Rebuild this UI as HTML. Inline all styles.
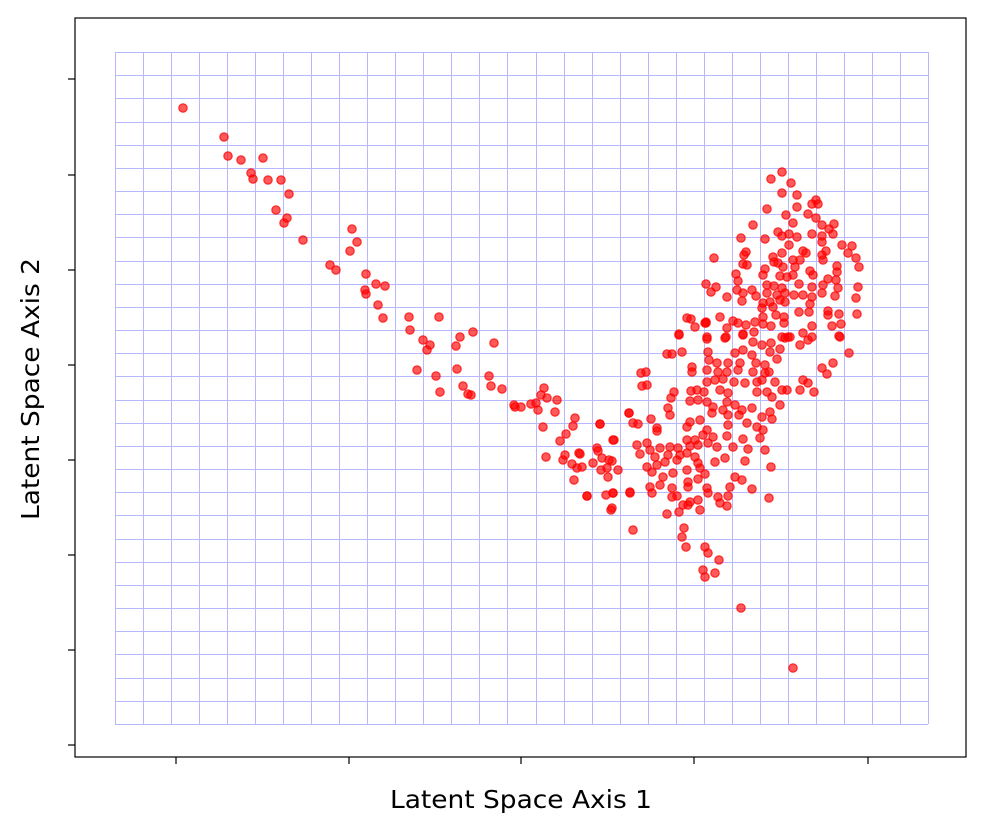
<!DOCTYPE html>
<html><head><meta charset="utf-8"><style>
html,body{margin:0;padding:0;background:#fff;width:986px;height:832px;overflow:hidden}
svg text{font-family:"DejaVu Sans","Liberation Sans",sans-serif;fill:#000}
</style></head><body>
<svg id="chart" width="986" height="832" viewBox="0 0 986 832" xmlns="http://www.w3.org/2000/svg">
<rect x="0" y="0" width="986" height="832" fill="#fff"/>
<path id="grid" fill="none" stroke="#b8b8ff" stroke-width="1" shape-rendering="crispEdges" d=""/>
<g id="points"></g>
<rect x="75" y="18" width="891" height="739" fill="none" stroke="#000" stroke-width="1.2"/>
<g id="ticks"></g>
<text x="521" y="808" font-size="25" text-anchor="middle" textLength="262" lengthAdjust="spacingAndGlyphs">Latent Space Axis 1</text>
<text x="39" y="389" font-size="25" text-anchor="middle" textLength="262" lengthAdjust="spacingAndGlyphs" transform="rotate(-90 39 389)">Latent Space Axis 2</text>
</svg>
<script>
// Data values (latent-space units, y measured downward from the top of the plot domain)
const xTickValues = [176, 349, 521, 694, 868];
const yTickValues = [79, 175, 270, 365, 460, 555, 650, 745];
const pointsX = [
183,224,228,241,263,251,253,268,281,289,276,287,284,303,352,357,350,330,336,366,376,385,365,366,378,383,409,410,423,430,439,456,460,473,494,427,417,436,457,463,468,440,471,489,491,502,514,521,515,536,538,541,544,547,557,531,555,573,575,543,566,560,546,565,572,579,577,574,587,563,600,598,601,609,614,613,611,630,633,629,667,682,686,705,708,719,703,705,715,741,793,679,688,700,684,641,647,691,706,667,
782,771,791,782,797,816,812,818,797,767,808,786,816,793,834,753,822,829,778,812,789,782,797,833,822,741,765,822,842,852,789,826,746,803,806,848,822,782,856,714,773,744,793,823,800,778,743,747,774,783,837,859,795,765,810,763,736,780,793,813,837,738,787,828,836,706,716,767,774,782,799,812,823,838,858,711,727,737,743,752,756,767,777,785,794,803,812,822,835,856,742,763,770,780,785,810,762,773,799,809,828,828,839,857,687,720,733,738,746,755,763,776,784,763,784,812,832,841,695,705,706,727,771,679,707,726,743,754,782,788,803,812,839,
679,707,725,743,753,762,771,785,790,800,808,840,849,672,682,708,735,743,752,770,780,709,717,728,740,756,765,777,822,833,646,692,692,707,718,727,738,753,765,769,827,642,707,715,723,734,745,757,762,775,803,808,691,697,704,720,728,757,767,782,787,800,814,674,671,690,698,707,727,735,772,780,668,713,723,742,752,629,670,712,728,739,762,770,772,651,633,638,600,690,700,728,747,757,657,657,687,707,763,613,687,695,703,713,727,743,760,637,647,690,698,708,717,733,597,650,660,670,678,748,765,640,655,668,680,687,695,580,602,612,593,647,657,665,677,698,715,725,745,582,607,618,652,673,687,700,705,735,742,771,608,663,688,698,650,660,672,688,707,730,752,587,606,613,630,652,672,677,708,718,728,769,690,698,683,720,727,612];
const pointsY = [
108,137,156,160,158,173,179,180,180,194,210,218,223,240,229,242,251,265,270,274,284,286,290,294,305,318,317,330,340,345,317,346,337,332,343,350,370,376,369,386,394,392,395,376,386,389,405,407,407,403,410,395,388,398,400,404,412,426,418,427,434,441,457,455,464,453,468,480,496,460,424,451,470,460,440,493,510,492,530,413,514,537,547,547,553,560,570,577,573,608,668,512,505,510,528,373,385,319,323,354,
172,179,183,193,195,200,204,204,207,209,214,215,218,223,224,225,225,229,232,234,234,236,237,234,236,238,239,242,245,246,245,251,252,251,253,253,255,253,258,258,257,255,260,260,260,263,264,265,262,267,266,267,267,269,271,275,274,276,275,275,272,281,277,279,280,284,287,285,286,288,284,287,285,288,287,292,297,290,293,290,296,293,295,293,295,295,297,293,296,298,301,303,302,300,302,304,308,307,312,312,311,315,314,314,318,317,321,323,325,322,317,315,317,324,323,326,326,324,327,323,322,328,326,334,337,337,334,332,337,337,333,337,336,
335,339,338,335,342,345,343,338,337,345,340,337,353,354,352,352,353,350,355,352,349,360,363,363,363,363,365,359,368,363,372,367,372,370,372,372,370,372,373,372,374,386,382,380,379,382,383,382,380,382,380,383,391,390,392,390,393,392,392,390,390,390,392,392,398,401,400,402,402,405,397,405,408,407,410,410,408,413,415,413,415,415,417,412,419,419,423,424,424,422,420,425,423,427,428,431,427,430,430,440,440,440,435,437,436,439,438,445,443,446,445,443,447,447,448,450,448,447,448,449,450,454,457,455,455,453,457,454,458,461,463,467,465,462,460,463,462,458,461,467,468,470,472,473,470,468,474,477,480,467,477,477,482,479,487,485,488,487,488,487,489,496,495,493,493,493,497,496,493,497,496,498,502,500,505,503,506,508];

// Axis geometry
const X0 = 75, X1 = 966, Y0 = 18, Y1 = 757;
const xDomain = [75, 966], yDomain = [18, 757];
function sx(v){ return X0 + (v - xDomain[0]) * (X1 - X0) / (xDomain[1] - xDomain[0]); }
function sy(v){ return Y0 + (v - yDomain[0]) * (Y1 - Y0) / (yDomain[1] - yDomain[0]); }

const NS = "http://www.w3.org/2000/svg";
const gx0 = 115, gx1 = 928, gy0 = 52, gy1 = 724, nGrid = 29;
let d = '';
for (let i = 0; i <= nGrid; i++) {
  const x = Math.round(gx0 + (gx1 - gx0) * i / nGrid) + 0.5;
  d += 'M' + x + ' ' + gy0 + 'V' + gy1;
  const y = Math.round(gy0 + (gy1 - gy0) * i / nGrid) + 0.5;
  d += 'M' + gx0 + ' ' + y + 'H' + gx1;
}
document.getElementById('grid').setAttribute('d', d);

const ticks = document.getElementById('ticks');
xTickValues.forEach(v => {
  const t = document.createElementNS(NS, 'line');
  t.setAttribute('x1', sx(v)); t.setAttribute('x2', sx(v)); t.setAttribute('y1', Y1); t.setAttribute('y2', Y1 + 7);
  t.setAttribute('stroke', '#000'); t.setAttribute('stroke-width', '1.2');
  
  
  ticks.appendChild(t);
});
yTickValues.forEach(v => {
  const t = document.createElementNS(NS, 'line');
  t.setAttribute('x1', X0 - 7); t.setAttribute('x2', X0); t.setAttribute('y1', sy(v)); t.setAttribute('y2', sy(v));
  t.setAttribute('stroke', '#000'); t.setAttribute('stroke-width', '1.2');
  
  
  ticks.appendChild(t);
});

const pts = document.getElementById('points');
const n = Math.min(pointsX.length, pointsY.length);
for (let i = 0; i < n; i++) {
  const c = document.createElementNS(NS, 'circle');
  c.setAttribute('cx', sx(pointsX[i])); c.setAttribute('cy', sy(pointsY[i])); c.setAttribute('r', 4.2);
  c.setAttribute('fill', 'rgba(255,0,0,0.65)');
  c.setAttribute('stroke', 'rgba(255,0,0,0.75)'); c.setAttribute('stroke-width', '1.2');
  
  
  pts.appendChild(c);
}
</script>
</body></html>
